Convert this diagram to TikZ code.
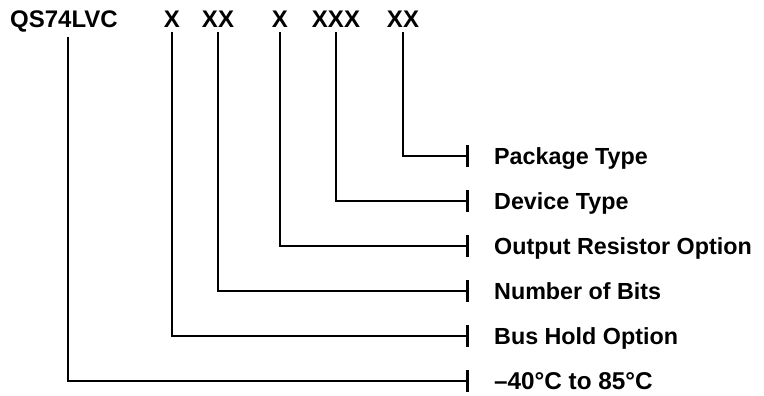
\documentclass[tikz,border=0pt]{standalone}
\usepackage{fontspec}
\setmainfont{Liberation Sans}
\usetikzlibrary{arrows.meta}
\begin{document}
\begin{tikzpicture}[x=1pt,y=-1pt,
    part/.style={anchor=base,inner sep=4pt,font=\fontsize{24}{28}\selectfont\bfseries},
    lbl/.style={anchor=west,inner sep=0pt,text height=17pt,text depth=0pt,font=\fontsize{23.3}{27}\selectfont\bfseries},
    lead/.style={line width=2.6pt,-{Bar[width=22pt]},shorten >=25pt}]
    \useasboundingbox (0,0) rectangle (764,396);

    % Code de commande
    \node[part] (qs) at (64,28) {QS74LVC};
    \node[part] (hold) at (172,28) {X};
    \node[part] (bits) at (218,28) {XX};
    \node[part] (res) at (280,28) {X};
    \node[part] (dev) at (336,28) {XXX};
    \node[part] (pkg) at (403,28) {XX};

    % Libellés
    \node[lbl] (lpkg) at (494,156) {Package Type};
    \node[lbl] (ldev) at (494,201) {Device Type};
    \node[lbl] (lres) at (494,246) {Output Resistor Option};
    \node[lbl] (lbits) at (494,291) {Number of Bits};
    \node[lbl] (lhold) at (494,336) {Bus Hold Option};
    \node[lbl,font=\fontsize{24.3}{28}\selectfont\bfseries] (ltemp) at (494,381) {--40\textdegree C to 85\textdegree C};

    % Liaisons
    \draw[lead] ([xshift=4pt]qs.south) |- (ltemp.west);
    \draw[lead] (hold.south) |- (lhold.west);
    \draw[lead] (bits.south) |- (lbits.west);
    \draw[lead] (res.south) |- (lres.west);
    \draw[lead] (dev.south) |- (ldev.west);
    \draw[lead] (pkg.south) |- (lpkg.west);
\end{tikzpicture}
\end{document}
